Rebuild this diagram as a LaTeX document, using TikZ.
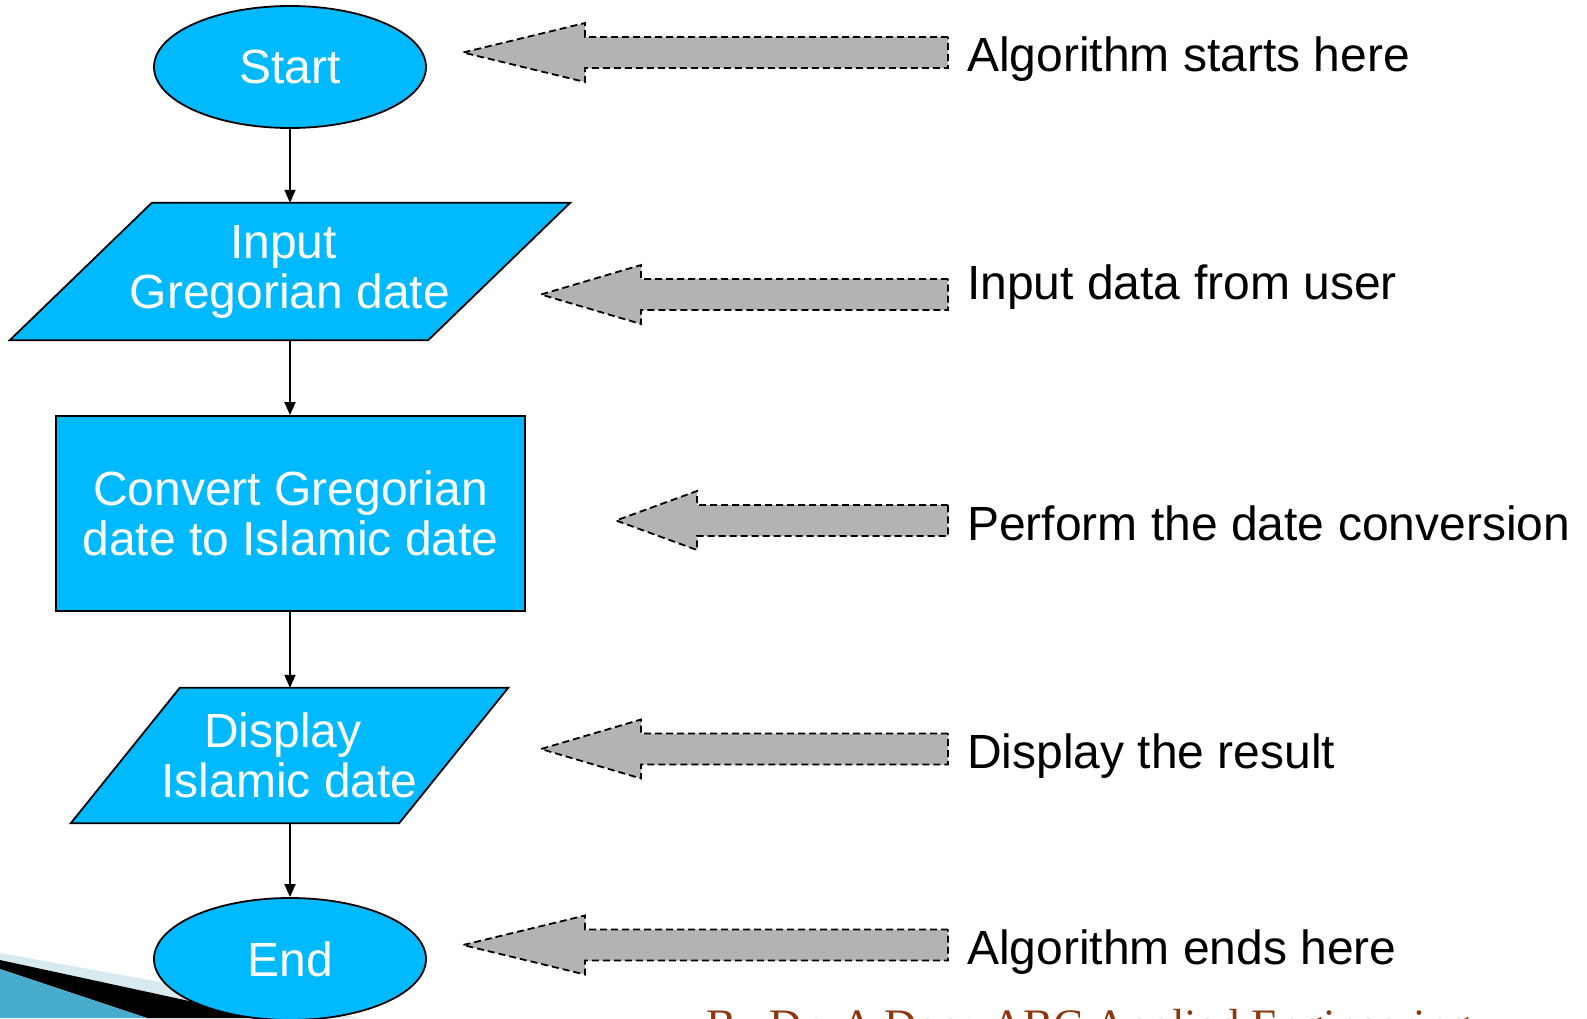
\documentclass[tikz,border=0pt]{standalone}
\usepackage{fontspec}
\setmainfont{Liberation Sans}
\newfontfamily\creditfont{Liberation Serif}
\usetikzlibrary{shapes.geometric,arrows.meta,backgrounds}
\definecolor{flowblue}{RGB}{0,185,255}
\definecolor{callgray}{RGB}{179,179,179}
\definecolor{creditred}{RGB}{140,55,15}
\definecolor{bandlight}{RGB}{214,234,240}
\definecolor{bandteal}{RGB}{72,172,204}
\begin{document}
\begin{tikzpicture}[x=1pt,y=-1pt,
  bigtext/.style={font=\fontsize{48}{50}\selectfont},
  term/.style={ellipse,draw=black,line width=1.8pt,fill=flowblue,text=white,bigtext,
    minimum width=272pt,minimum height=122pt,inner sep=0pt},
  procbox/.style={rectangle,draw=black,line width=1.8pt,fill=flowblue,text=white,
    align=center,bigtext,inner sep=0pt},
  iotext/.style={rectangle,text=white,align=center,bigtext,inner sep=0pt},
  iofill/.style={draw=black,line width=1.8pt,fill=flowblue,line join=miter},
  flow/.style={line width=1.8pt,-{Triangle[length=13pt,width=11pt]}},
  callout/.style={draw=black,fill=callgray,line width=1.8pt,dash pattern=on 7pt off 4pt},
  note/.style={anchor=base west,bigtext,inner sep=0pt,text=black}
]
\useasboundingbox (0,0) rectangle (1587,1018);
\begin{scope}[on background layer]
  \fill[white] (0,0) rectangle (1587,1018);
\end{scope}
\begin{scope}
\clip (0,0) rectangle (1587,1018);
% slide decoration, bottom left
\fill[bandlight] (0,953) -- (360,1018) -- (268,1018) -- (0,960) -- cycle;
\fill[black] (0,960) -- (268,1018) -- (147,1018) -- (0,969) -- cycle;
\fill[bandteal] (0,969) -- (147,1018) -- (0,1018) -- cycle;

% flowchart
\node[term] (start) at (290,67) {Start};
\node[iotext,minimum width=418pt,minimum height=137pt] (input) at (290,271.5) {Input\kern13pt\\Gregorian date};
\node[procbox,minimum width=469pt,minimum height=195pt] (conv) at (290.5,513.5) {Convert Gregorian\\date to Islamic date};
\node[iotext,minimum width=328pt,minimum height=135pt] (disp) at (289.5,755.5) {Display\kern13pt\\Islamic date};
\node[term] (end) at (290,959) {End};

\begin{scope}[on background layer]
  \draw[iofill] ([xshift=71pt]input.north west) -- ([xshift=71pt]input.north east)
    -- ([xshift=-71pt]input.south east) -- ([xshift=-71pt]input.south west) -- cycle;
  \draw[iofill] ([xshift=54.5pt]disp.north west) -- ([xshift=54.5pt]disp.north east)
    -- ([xshift=-54.5pt]disp.south east) -- ([xshift=-54.5pt]disp.south west) -- cycle;
\end{scope}

\draw[flow] (start.south) -- (input.north);
\draw[flow] (input.south) -- (input.south |- conv.north);
\draw[flow] (input.south |- conv.south) -- (input.south |- disp.north);
\draw[flow] (input.south |- disp.south) -- (end.north);

% callout arrows
\draw[callout] (948,37) -- (585,37) -- (585,23) -- (463,52.5) -- (585,82) -- (585,68) -- (948,68) -- cycle;
\draw[callout] (948,279) -- (641,279) -- (641,265) -- (541,294.5) -- (641,324) -- (641,310) -- (948,310) -- cycle;
\draw[callout] (948,505) -- (697,505) -- (697,491) -- (616,520.5) -- (697,550) -- (697,536) -- (948,536) -- cycle;
\draw[callout] (948,733.5) -- (641,733.5) -- (641,719.5) -- (541,749) -- (641,778.5) -- (641,764.5) -- (948,764.5) -- cycle;
\draw[callout] (948,929.5) -- (585,929.5) -- (585,915.5) -- (463,945) -- (585,974.5) -- (585,960.5) -- (948,960.5) -- cycle;

% explanations
\node[note] (n1) at (967,71) {Algorithm starts here};
\node[note] (n2) at (967,299.5) {Input data from user};
\node[note] (n3) at (967,540) {Perform the date conversion};
\node[note] (n4) at (967,768) {Display the result};
\node[note] (n5) at (967,964) {Algorithm ends here};

% footer (cut off by the page edge, as in the reference)
\node[anchor=base west,inner sep=0pt,text=creditred,font=\creditfont\fontsize{45}{50}\selectfont] (credit) at (706,1040) {By Dr. A.Dena ABC Applied Engineering};
\end{scope}
\end{tikzpicture}
\end{document}
